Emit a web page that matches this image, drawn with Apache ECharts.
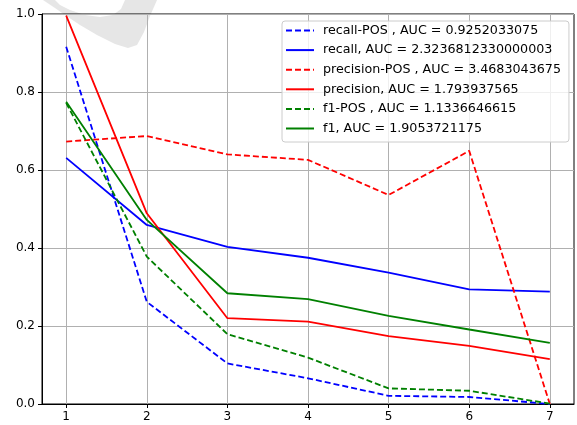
<!DOCTYPE html>
<html>
<head>
<meta charset="utf-8">
<script src="https://cdn.jsdelivr.net/npm/echarts@6/dist/echarts.min.js"></script>
<style>
  html, body { margin: 0; padding: 0; background: #fff; }
  #main { width: 577px; height: 425px; }
</style>
</head>
<body>
<div id="main"></div>
<script>
// x positions and tick labels
var xs = [1, 2, 3, 4, 5, 6, 7];

// values
var recallPos    = [0.916, 0.262, 0.104, 0.066, 0.021, 0.018, 0.0];
var recall       = [0.631, 0.459, 0.403, 0.375, 0.337, 0.294, 0.288];
var precisionPos = [0.673, 0.687, 0.640, 0.626, 0.536, 0.649, 0.0];
var precision    = [0.996, 0.489, 0.220, 0.211, 0.174, 0.149, 0.115];
var f1Pos        = [0.772, 0.378, 0.179, 0.119, 0.040, 0.034, 0.001];
var f1           = [0.775, 0.472, 0.284, 0.269, 0.226, 0.191, 0.157];

var names = [
    'recall-POS , AUC = 0.9252033075',
    'recall, AUC = 2.3236812330000003',
    'precision-POS , AUC = 3.4683043675',
    'precision, AUC = 1.793937565',
    'f1-POS , AUC = 1.1336646615',
    'f1, AUC = 1.9053721175'
];

function pairs(vals) {
    return xs.map(function (x, i) { return [x, vals[i]]; });
}

function mkLine(name, vals, color, dashed) {
    return {
        name: name,
        type: 'line',
        data: pairs(vals),
        symbol: 'none',
        smooth: false,
        lineStyle: { color: color, width: 1.8, type: dashed ? [6, 3] : 'solid' },
        itemStyle: { color: color }
    };
}

var myChart = echarts.init(document.getElementById('main'));

var font = 'DejaVu Sans';

option = {
    animation: false,
    backgroundColor: '#fff',
    graphic: [{
        // grey blob in the top corner of the screenshot
        type: 'polygon',
        z: -10,
        shape: {
            points: [[43, 0], [55, 8], [65, 15], [80, 25], [97, 35], [115, 44], [128, 48],
                     [137, 45], [144, 32], [150, 16], [157, 0],
                     [125, 0], [121, 9], [113, 15], [100, 17], [85, 15], [70, 10], [60, 5], [55, 0]]
        },
        style: { fill: '#e6e6e6' }
    }],
    grid: {
        left: 42, right: 3, top: 14, bottom: 21, containLabel: false,
        show: true, borderColor: '#000', borderWidth: 1, backgroundColor: 'transparent'
    },
    legend: {
        orient: 'vertical',
        left: 282,
        top: 21,
        padding: [3, 8, 7, 3],
        itemGap: 6.6,
        itemWidth: 28,
        itemHeight: 14,
        backgroundColor: 'rgba(255,255,255,0.8)',
        borderColor: '#cccccc',
        borderWidth: 1,
        borderRadius: 3,
        itemStyle: { opacity: 0 },
        textStyle: { fontFamily: font, fontSize: 12.7, color: '#000', padding: [0, 0, 0, 4] },
        data: names
    },
    xAxis: {
        type: 'value',
        min: 0.7,
        max: 7.3,
        axisLine: { show: true, onZero: false, lineStyle: { color: '#000', width: 1 } },
        axisTick: { show: true, length: 4, customValues: xs, lineStyle: { color: '#000' } },
        axisLabel: { customValues: xs, color: '#000', fontFamily: font, fontSize: 12, margin: 7 },
        splitLine: { show: true, lineStyle: { color: '#b0b0b0', width: 1 } }
    },
    yAxis: {
        type: 'value',
        min: 0,
        max: 1.0,
        interval: 0.2,
        axisLine: { show: true, onZero: false, lineStyle: { color: '#000', width: 1 } },
        axisTick: { show: true, length: 4, lineStyle: { color: '#000' } },
        axisLabel: {
            color: '#000', fontFamily: font, fontSize: 12, margin: 7,
            formatter: function (v) { return v.toFixed(1); }
        },
        splitLine: { show: true, lineStyle: { color: '#b0b0b0', width: 1 } }
    },
    series: [
        mkLine(names[0], recallPos, '#0000ff', true),
        mkLine(names[1], recall, '#0000ff', false),
        mkLine(names[2], precisionPos, '#ff0000', true),
        mkLine(names[3], precision, '#ff0000', false),
        mkLine(names[4], f1Pos, '#008000', true),
        mkLine(names[5], f1, '#008000', false)
    ]
};

myChart.setOption(option);
</script>
</body>
</html>
